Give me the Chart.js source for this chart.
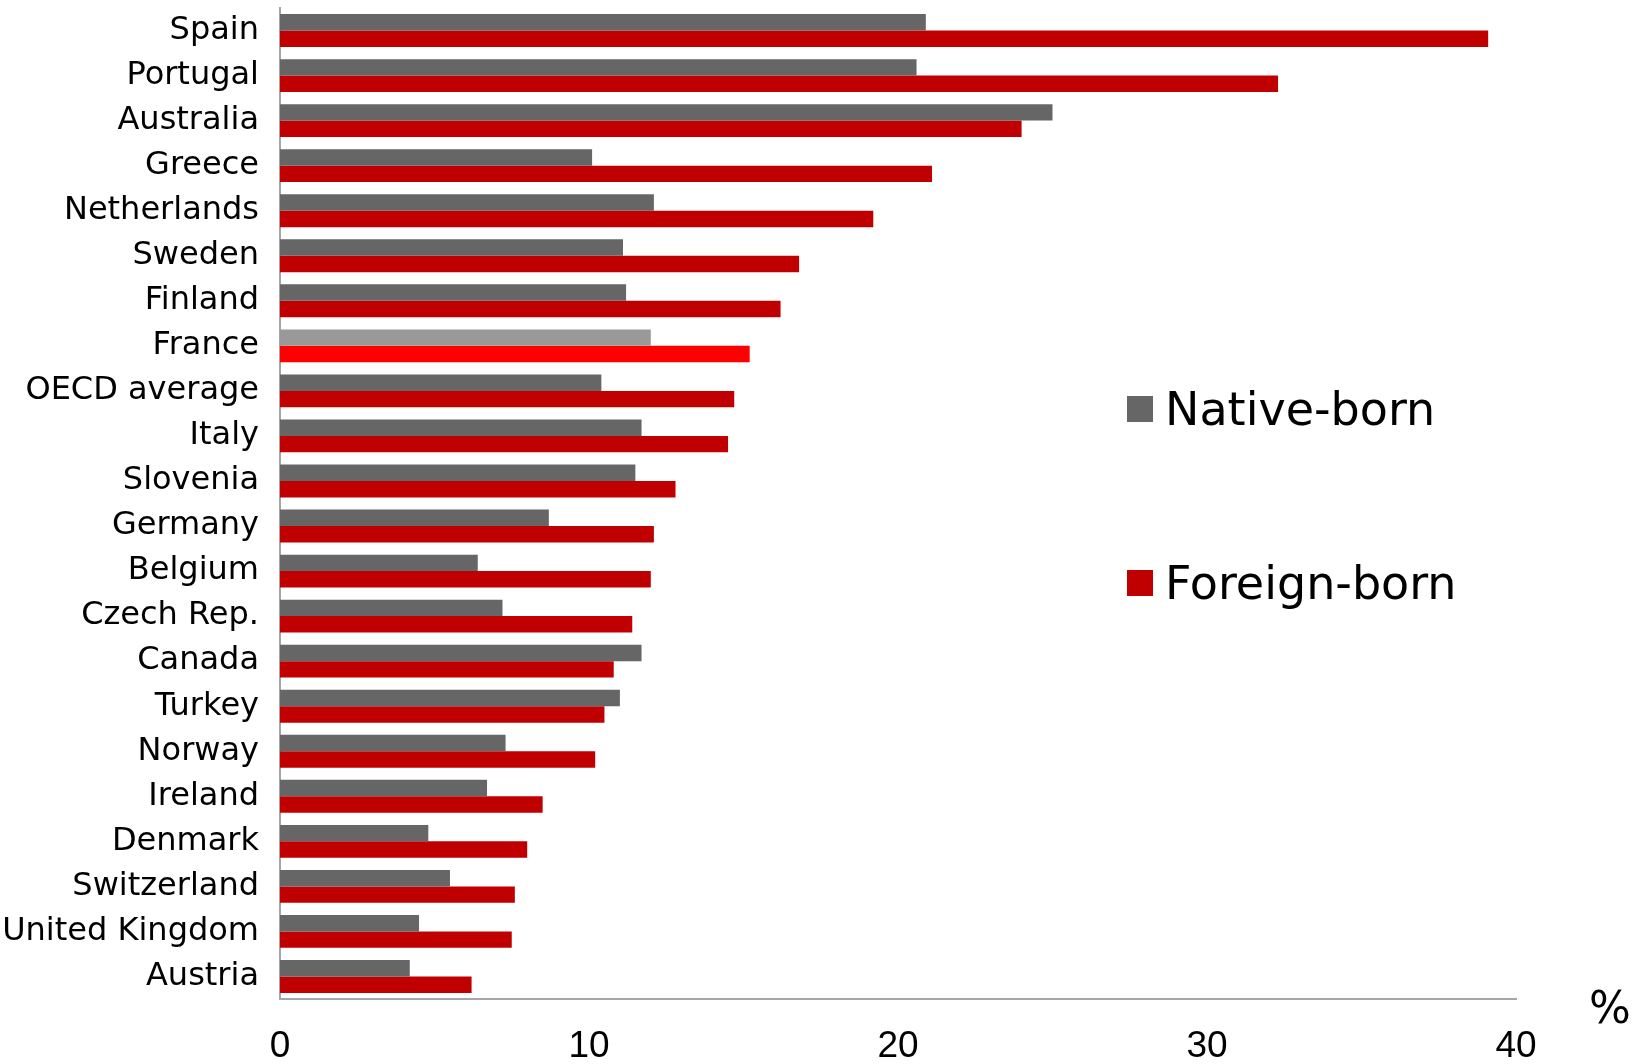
<!DOCTYPE html>
<html>
<head>
<meta charset="utf-8">
<script src="https://cdn.jsdelivr.net/npm/chart.js@4.4.1/dist/chart.umd.min.js"></script>
<style>
  body { margin: 0; background: #fff; overflow: hidden; }
  #wrap { position: relative; width: 1642px; height: 1064px; }
  #legend { position: absolute; left: 1127px; top: 0; font-family: 'DejaVu Sans', sans-serif; font-size: 46px; color: #000; }
  .item { position: absolute; left: 0; white-space: nowrap; display: flex; align-items: center; }
  .box { width: 26px; height: 26px; margin-right: 12px; }
</style>
</head>
<body>
<div id="wrap">
  <canvas id="chart" width="1642" height="1064"></canvas>
  <div id="legend"></div>
</div>
<script>
// datos
const countries = ['Spain', 'Portugal', 'Australia', 'Greece', 'Netherlands', 'Sweden', 'Finland',
  'France', 'OECD average', 'Italy', 'Slovenia', 'Germany', 'Belgium', 'Czech Rep.', 'Canada',
  'Turkey', 'Norway', 'Ireland', 'Denmark', 'Switzerland', 'United Kingdom', 'Austria']
const nativeBorn = [20.9, 20.6, 25.0, 10.1, 12.1, 11.1, 11.2, 12.0, 10.4, 11.7, 11.5, 8.7, 6.4,
  7.2, 11.7, 11.0, 7.3, 6.7, 4.8, 5.5, 4.5, 4.2]
const foreignBorn = [39.1, 32.3, 24.0, 21.1, 19.2, 16.8, 16.2, 15.2, 14.7, 14.5, 12.8, 12.1, 12.0,
  11.4, 10.8, 10.5, 10.2, 8.5, 8.0, 7.6, 7.5, 6.2]
const xTicks = [0, 10, 20, 30, 40]
const highlight = 'France'

const font = "'DejaVu Sans', sans-serif"

// France va en colores mas claros
const colorsFor = (normal, light) => countries.map(c => c === highlight ? light : normal)

const data = {
  labels: countries,
  datasets: [{
    label: 'Native-born',
    data: nativeBorn,
    backgroundColor: colorsFor('#666666', '#999999'),
    legendColor: '#666666'
  }, {
    label: 'Foreign-born',
    data: foreignBorn,
    backgroundColor: colorsFor('#C00000', '#FF0000'),
    legendColor: '#C00000'
  }]
}

const percentSign = {
  id: 'percentSign',
  afterDraw(chart) {
    const ctx = chart.ctx
    const area = chart.chartArea
    ctx.save()
    ctx.font = '44px ' + font
    ctx.fillStyle = '#000'
    ctx.textAlign = 'center'
    ctx.textBaseline = 'middle'
    ctx.fillText('%', area.right + 94, area.bottom + 13)
    ctx.restore()
  }
}

const options = {
  responsive: false,
  animation: false,
  indexAxis: 'y',
  layout: { padding: { top: 8, right: 126, bottom: 0, left: 0 } },
  datasets: { bar: { categoryPercentage: 0.73, barPercentage: 1 } },
  scales: {
    x: {
      min: 0,
      max: 40,
      afterBuildTicks: scale => { scale.ticks = xTicks.map(v => ({ value: v })) },
      afterFit: scale => { scale.height = 65 },
      grid: { display: false, drawTicks: false },
      border: { display: true, color: '#a6a6a6', width: 2 },
      ticks: { color: '#000', padding: 26, font: { family: 'Liberation Sans', size: 37 } }
    },
    y: {
      afterFit: scale => {
        scale.width = 280
        scale.paddingTop = 0
        scale.paddingBottom = 0
      },
      grid: { display: false, drawTicks: false },
      border: { display: true, color: '#a6a6a6', width: 2 },
      ticks: { color: '#000', padding: 21, autoSkip: false, font: { family: font, size: 32 } }
    }
  },
  plugins: {
    legend: { display: false },
    tooltip: { enabled: false }
  }
}

new Chart('chart', { type: 'bar', data, options, plugins: [percentSign] })

// leyenda en html
const legendTops = [409, 583]
const legend = document.getElementById('legend')
data.datasets.forEach((ds, i) => {
  const item = document.createElement('div')
  item.className = 'item'
  item.style.top = (legendTops[i] - 30) + 'px'
  item.style.height = '60px'
  item.innerHTML = '<span class="box" style="background:' + ds.legendColor + '"></span><span>' + ds.label + '</span>'
  legend.appendChild(item)
})
</script>
</body>
</html>
